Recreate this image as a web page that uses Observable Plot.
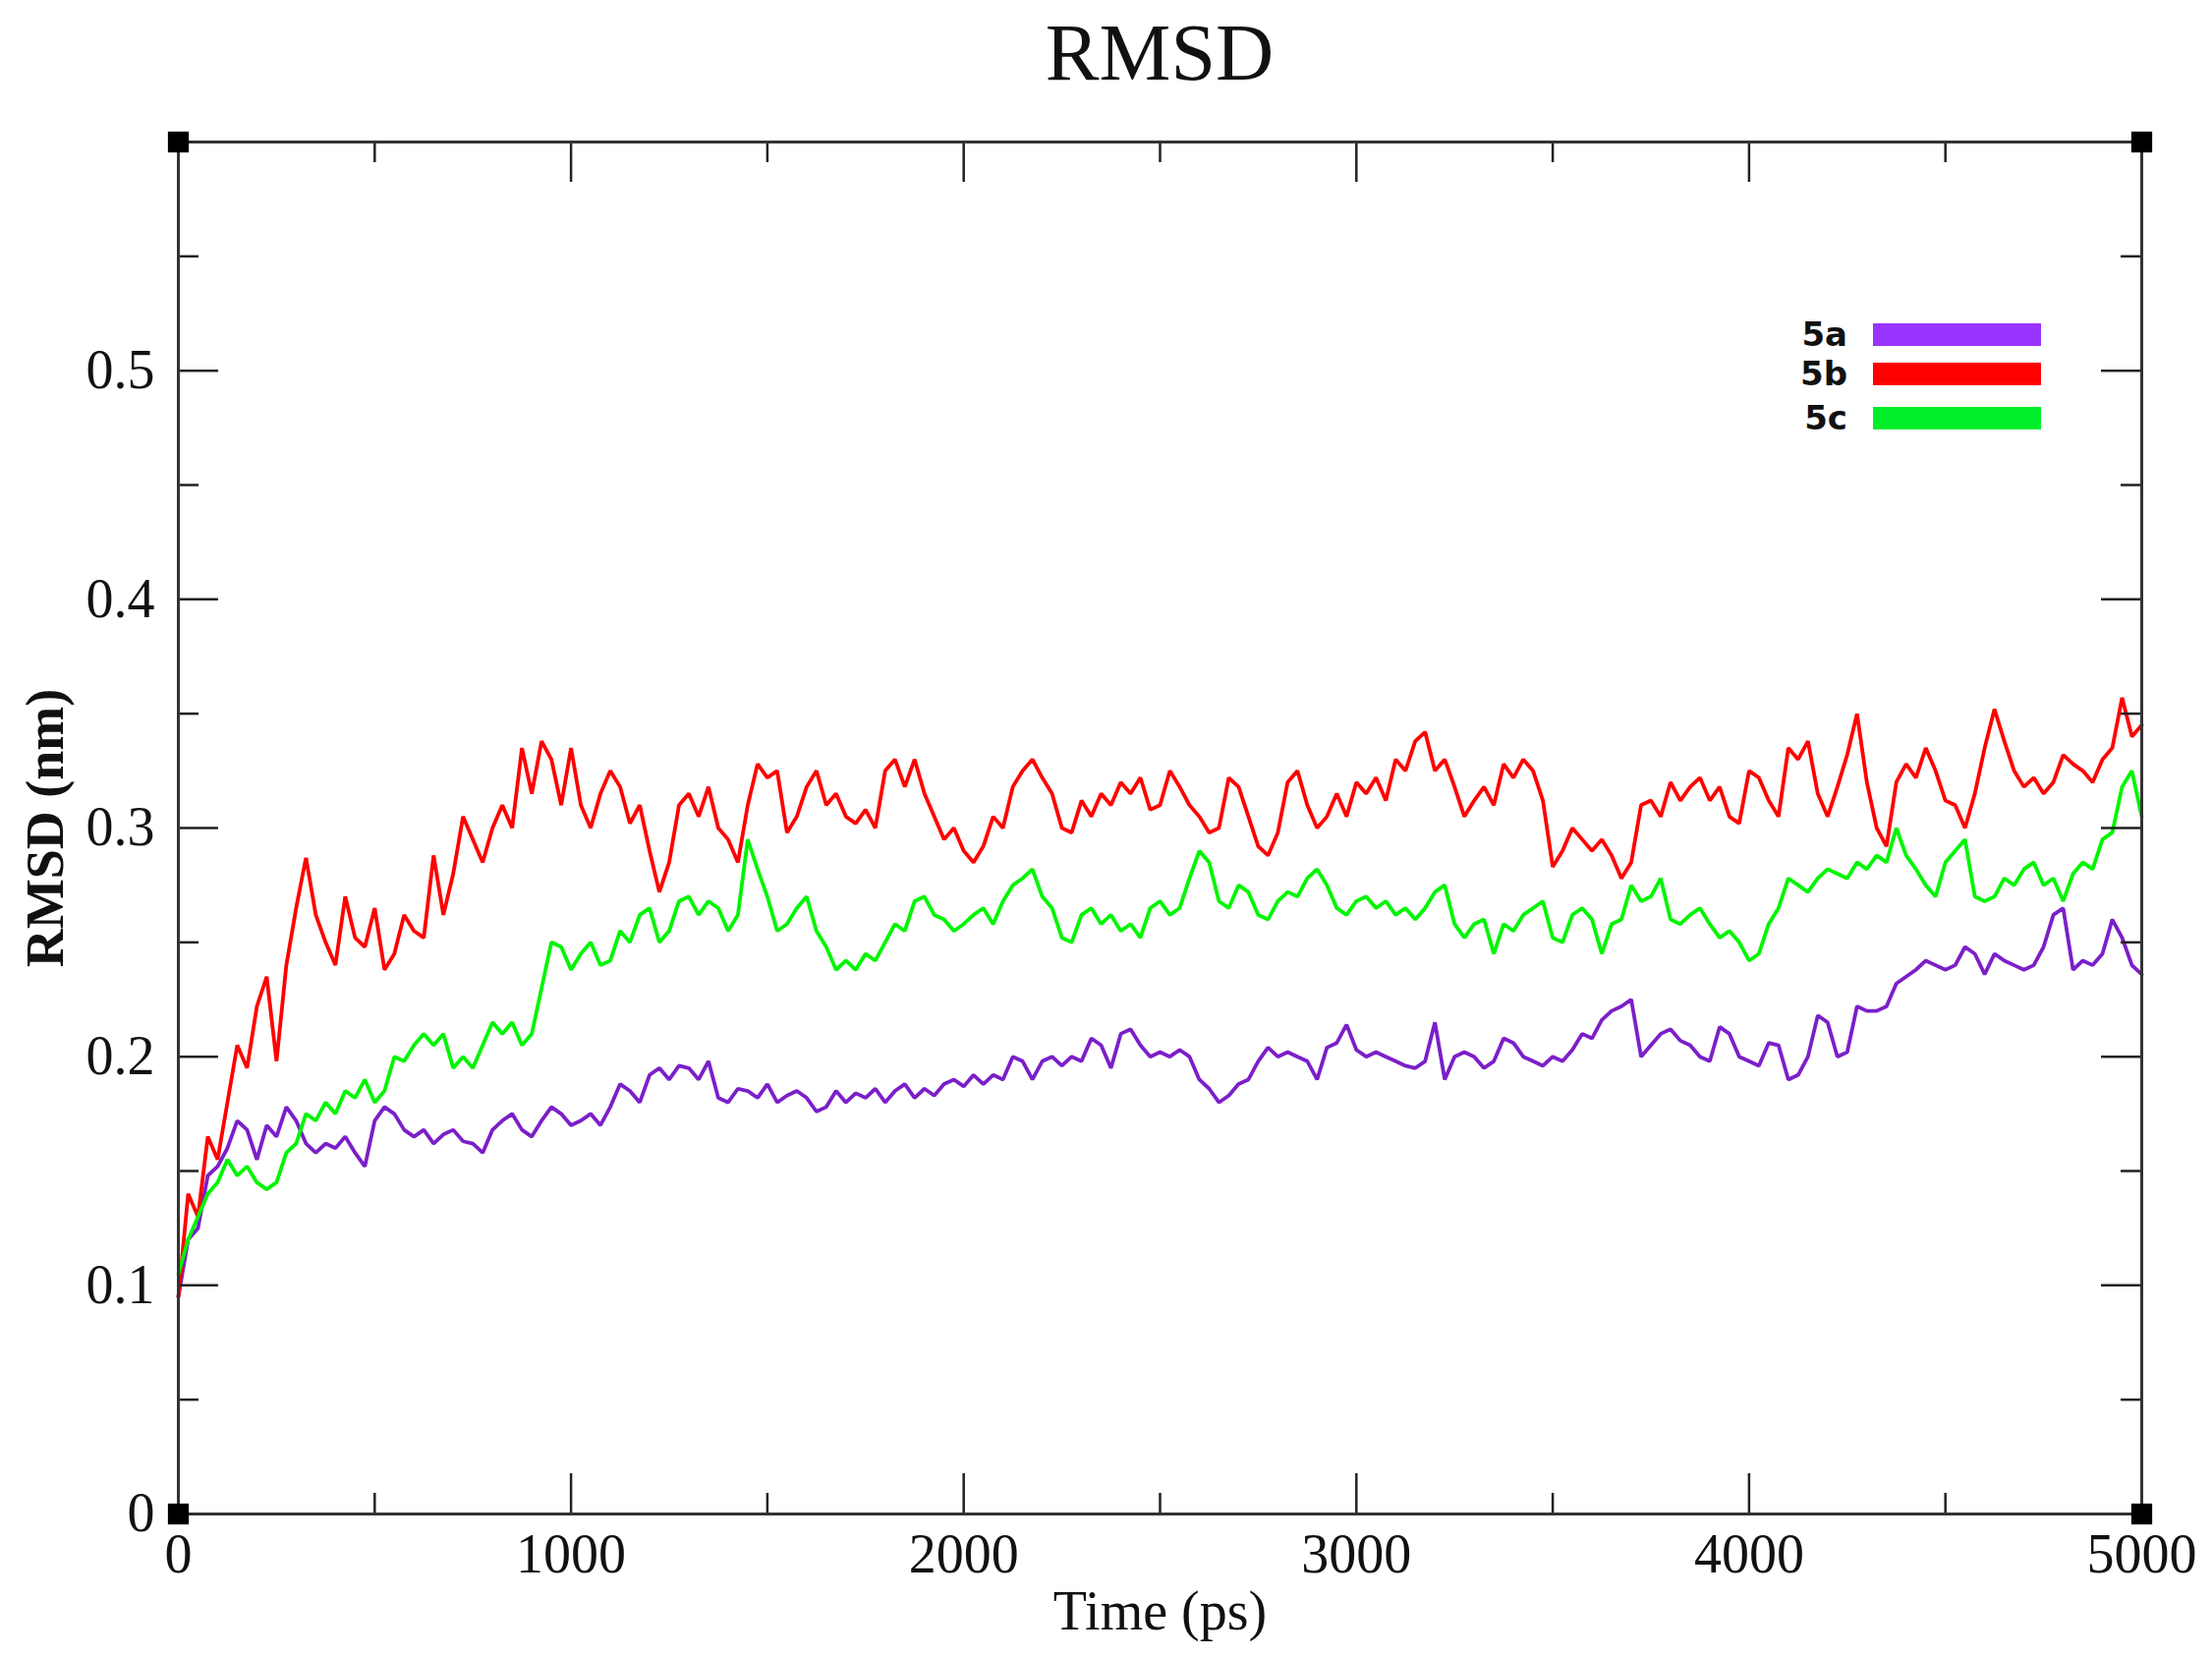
<!DOCTYPE html>
<html>
<head>
<meta charset="utf-8">
<script src="https://cdn.jsdelivr.net/npm/d3@7"></script>
<script src="https://cdn.jsdelivr.net/npm/@observablehq/plot@0.6"></script>
<style>
  html, body { margin: 0; padding: 0; background: #fff; }
  #wrap { position: relative; width: 2251px; height: 1686px; }
  #title { height: 100px; box-sizing: border-box; padding-left: 181px; padding-right: 72px; text-align: center;
           font-family: "Liberation Serif", serif; font-size: 82px; line-height: 108px; color: #111; }
  #legend { position: absolute; left: 0; top: 0; }
  .lab { position: absolute; font-family: "DejaVu Sans", Roboto, sans-serif; font-weight: bold; font-size: 34px;
         line-height: 34px; height: 34px; color: #111; text-align: right; width: 80px; }
  .sw { position: absolute; height: 23px; width: 171px; }
</style>
</head>
<body>
<div id="wrap">
  <div id="title">RMSD</div>
  <div id="chart"></div>
  <div id="legend"></div>
</div>
<script>
// ---------------- data ----------------
const seriesNames = ["5a", "5b", "5c"];
const seriesColors = ["#7b1fc9", "#ff0000", "#00f500"];
const legendColors = ["#9933ff", "#ff0000", "#00ee2a"];
const timeStep = 25; // ps between samples
const xTicksMajor = [0, 1000, 2000, 3000, 4000, 5000];
const xTicksMinor = [500, 1500, 2500, 3500, 4500];
const yTicksMajor = [0, 0.1, 0.2, 0.3, 0.4, 0.5];
const yTicksMinor = [0.05, 0.15, 0.25, 0.35, 0.45, 0.55];
const xDomain = [0, 5000];
const yDomain = [0, 0.6];

const rmsd5a = [
0.095,0.12,0.125,0.148,0.152,0.16,0.172,0.168,0.155,0.17,0.165,0.178,0.172,0.162,0.158,0.162,0.16,0.165,0.158,0.152,
0.172,0.178,0.175,0.168,0.165,0.168,0.162,0.166,0.168,0.163,0.162,0.158,0.168,0.172,0.175,0.168,0.165,0.172,0.178,0.175,
0.17,0.172,0.175,0.17,0.178,0.188,0.185,0.18,0.192,0.195,0.19,0.196,0.195,0.19,0.198,0.182,0.18,0.186,0.185,0.182,
0.188,0.18,0.183,0.185,0.182,0.176,0.178,0.185,0.18,0.184,0.182,0.186,0.18,0.185,0.188,0.182,0.186,0.183,0.188,0.19,
0.187,0.192,0.188,0.192,0.19,0.2,0.198,0.19,0.198,0.2,0.196,0.2,0.198,0.208,0.205,0.195,0.21,0.212,0.205,0.2,
0.202,0.2,0.203,0.2,0.19,0.186,0.18,0.183,0.188,0.19,0.198,0.204,0.2,0.202,0.2,0.198,0.19,0.204,0.206,0.214,
0.203,0.2,0.202,0.2,0.198,0.196,0.195,0.198,0.215,0.19,0.2,0.202,0.2,0.195,0.198,0.208,0.206,0.2,0.198,0.196,
0.2,0.198,0.203,0.21,0.208,0.216,0.22,0.222,0.225,0.2,0.205,0.21,0.212,0.207,0.205,0.2,0.198,0.213,0.21,0.2,
0.198,0.196,0.206,0.205,0.19,0.192,0.2,0.218,0.215,0.2,0.202,0.222,0.22,0.22,0.222,0.232,0.235,0.238,0.242,0.24,
0.238,0.24,0.248,0.245,0.236,0.245,0.242,0.24,0.238,0.24,0.248,0.262,0.265,0.238,0.242,0.24,0.245,0.26,0.252,0.24,
0.236];

const rmsd5b = [
0.095,0.14,0.13,0.165,0.155,0.18,0.205,0.195,0.222,0.235,0.198,0.24,0.265,0.287,0.262,0.25,0.24,0.27,0.252,0.248,
0.265,0.238,0.245,0.262,0.255,0.252,0.288,0.262,0.28,0.305,0.295,0.285,0.3,0.31,0.3,0.335,0.315,0.338,0.33,0.31,
0.335,0.31,0.3,0.315,0.325,0.318,0.302,0.31,0.29,0.272,0.285,0.31,0.315,0.305,0.318,0.3,0.295,0.285,0.31,0.328,
0.322,0.325,0.298,0.305,0.318,0.325,0.31,0.315,0.305,0.302,0.308,0.3,0.325,0.33,0.318,0.33,0.315,0.305,0.295,0.3,
0.29,0.285,0.292,0.305,0.3,0.318,0.325,0.33,0.322,0.315,0.3,0.298,0.312,0.305,0.315,0.31,0.32,0.315,0.322,0.308,
0.31,0.325,0.318,0.31,0.305,0.298,0.3,0.322,0.318,0.305,0.292,0.288,0.298,0.32,0.325,0.31,0.3,0.305,0.315,0.305,
0.32,0.315,0.322,0.312,0.33,0.325,0.338,0.342,0.325,0.33,0.318,0.305,0.312,0.318,0.31,0.328,0.322,0.33,0.325,0.312,
0.283,0.29,0.3,0.295,0.29,0.295,0.288,0.278,0.285,0.31,0.312,0.305,0.32,0.312,0.318,0.322,0.312,0.318,0.305,0.302,
0.325,0.322,0.312,0.305,0.335,0.33,0.338,0.315,0.305,0.318,0.332,0.35,0.32,0.3,0.292,0.32,0.328,0.322,0.335,0.325,
0.312,0.31,0.3,0.315,0.335,0.352,0.338,0.325,0.318,0.322,0.315,0.32,0.332,0.328,0.325,0.32,0.33,0.335,0.357,0.34,
0.345];

const rmsd5c = [
0.105,0.12,0.13,0.14,0.145,0.155,0.148,0.152,0.145,0.142,0.145,0.158,0.162,0.175,0.172,0.18,0.175,0.185,0.182,0.19,
0.18,0.185,0.2,0.198,0.205,0.21,0.205,0.21,0.195,0.2,0.195,0.205,0.215,0.21,0.215,0.205,0.21,0.23,0.25,0.248,
0.238,0.245,0.25,0.24,0.242,0.255,0.25,0.262,0.265,0.25,0.255,0.268,0.27,0.262,0.268,0.265,0.255,0.262,0.295,0.282,
0.27,0.255,0.258,0.265,0.27,0.255,0.248,0.238,0.242,0.238,0.245,0.242,0.25,0.258,0.255,0.268,0.27,0.262,0.26,0.255,
0.258,0.262,0.265,0.258,0.268,0.275,0.278,0.282,0.27,0.265,0.252,0.25,0.262,0.265,0.258,0.262,0.255,0.258,0.252,0.265,
0.268,0.262,0.265,0.278,0.29,0.285,0.268,0.265,0.275,0.272,0.262,0.26,0.268,0.272,0.27,0.278,0.282,0.275,0.265,0.262,
0.268,0.27,0.265,0.268,0.262,0.265,0.26,0.265,0.272,0.275,0.258,0.252,0.258,0.26,0.245,0.258,0.255,0.262,0.265,0.268,
0.252,0.25,0.262,0.265,0.26,0.245,0.258,0.26,0.275,0.268,0.27,0.278,0.26,0.258,0.262,0.265,0.258,0.252,0.255,0.25,
0.242,0.245,0.258,0.265,0.278,0.275,0.272,0.278,0.282,0.28,0.278,0.285,0.282,0.288,0.285,0.3,0.288,0.282,0.275,0.27,
0.285,0.29,0.295,0.27,0.268,0.27,0.278,0.275,0.282,0.285,0.275,0.278,0.268,0.28,0.285,0.282,0.295,0.298,0.318,0.325,
0.305];

const seriesValues = [rmsd5a, rmsd5b, rmsd5c];

// ---------------- build table ----------------
const rows = [];
seriesNames.forEach((name, s) => {
  seriesValues[s].forEach((v, i) => rows.push({series: name, t: i * timeStep, v}));
});
const corners = [];
xDomain.forEach(x => yDomain.forEach(y => corners.push({x, y})));

// ---------------- layout ----------------
const W = 2251, H = 1586;
const mL = 181, mR = 72, mT = 44, mB = 146;
const innerW = W - mL - mR, innerH = H - mT - mB;
const majorLen = 41, minorLen = 21;
const tickColor = "#222";
const serif = "Liberation Serif, Times New Roman, serif";

const chart = Plot.plot({
  width: W, height: H,
  marginLeft: mL, marginRight: mR, marginTop: mT, marginBottom: mB,
  x: {domain: xDomain, axis: null},
  y: {domain: yDomain, axis: null},
  color: {domain: seriesNames, range: seriesColors},
  style: {background: "#fff", overflow: "visible"},
  marks: [
    Plot.line(rows, {x: "t", y: "v", z: "series", stroke: "series", strokeWidth: 3.8, strokeLinejoin: "miter", curve: "linear"}),
    // inward ticks on all four sides
    Plot.tickX(xTicksMajor, {x: d => d, insetTop: innerH - majorLen, stroke: tickColor, strokeWidth: 2.5}),
    Plot.tickX(xTicksMajor, {x: d => d, insetBottom: innerH - majorLen, stroke: tickColor, strokeWidth: 2.5}),
    Plot.tickX(xTicksMinor, {x: d => d, insetTop: innerH - minorLen, stroke: tickColor, strokeWidth: 2.5}),
    Plot.tickX(xTicksMinor, {x: d => d, insetBottom: innerH - minorLen, stroke: tickColor, strokeWidth: 2.5}),
    Plot.tickY(yTicksMajor, {y: d => d, insetRight: innerW - majorLen, stroke: tickColor, strokeWidth: 2.5}),
    Plot.tickY(yTicksMajor, {y: d => d, insetLeft: innerW - majorLen, stroke: tickColor, strokeWidth: 2.5}),
    Plot.tickY(yTicksMinor, {y: d => d, insetRight: innerW - minorLen, stroke: tickColor, strokeWidth: 2.5}),
    Plot.tickY(yTicksMinor, {y: d => d, insetLeft: innerW - minorLen, stroke: tickColor, strokeWidth: 2.5}),
    Plot.frame({stroke: "#333", strokeWidth: 3}),
    Plot.dot(corners, {x: "x", y: "y", symbol: "square", r: 12, fill: "#000", stroke: "none"}),
    // tick labels
    Plot.text(xTicksMajor, {x: d => d, frameAnchor: "bottom", lineAnchor: "middle", textAnchor: "middle", dy: 42,
      text: d => String(d), fontFamily: serif, fontSize: 56, fill: "#111"}),
    Plot.text(yTicksMajor, {y: d => d, frameAnchor: "left", lineAnchor: "middle", dx: -24, textAnchor: "end",
      text: d => d === 0 ? "0" : d3.format(".1f")(d), fontFamily: serif, fontSize: 56, fill: "#111"}),
    // axis titles
    Plot.text(["Time (ps)"], {frameAnchor: "bottom", lineAnchor: "middle", textAnchor: "middle", dy: 100,
      text: d => d, fontFamily: serif, fontSize: 56, fill: "#111"}),
    Plot.text(["RMSD (nm)"], {frameAnchor: "left", lineAnchor: "middle", textAnchor: "middle", dx: -135, rotate: -90,
      text: d => d, fontFamily: serif, fontSize: 54, fontWeight: "bold", fill: "#111"})
  ]
});
document.getElementById("chart").appendChild(chart);

// legend (HTML overlay inside plot area)
const legend = document.getElementById("legend");
const legendTop = [340, 380, 425];
seriesNames.forEach((name, i) => {
  const lab = document.createElement("div");
  lab.className = "lab";
  lab.textContent = name;
  lab.style.left = (1880 - 80) + "px";
  lab.style.top = (legendTop[i] - 17) + "px";
  legend.appendChild(lab);
  const sw = document.createElement("div");
  sw.className = "sw";
  sw.style.left = "1906px";
  sw.style.top = (legendTop[i] - 11) + "px";
  sw.style.background = legendColors[i];
  legend.appendChild(sw);
});
</script>
</body>
</html>
